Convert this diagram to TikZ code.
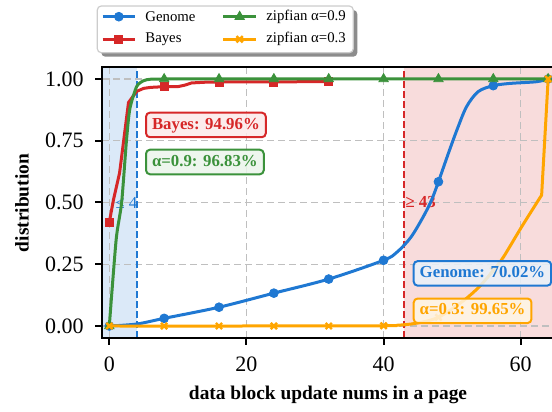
\documentclass[tikz,border=0pt]{standalone}
\usepackage{fontspec}
\setmainfont{Liberation Serif}
\usetikzlibrary{shadows,plotmarks}
\definecolor{cBlue}{HTML}{1F78D2}
\definecolor{cRed}{HTML}{D62728}
\definecolor{cGreen}{HTML}{3B923B}
\definecolor{cOrange}{HTML}{FFA500}
\tikzset{
  dataline/.style={line width=1.5pt, line join=round},
  gridline/.style={black!25, line width=0.7pt, dash pattern=on 3.5pt off 2pt},
  splitline/.style={line width=1pt, dash pattern=on 3.5pt off 1.5pt},
  spine/.style={black, line width=1pt},
  ticklab/.style={inner sep=0pt, font=\fontsize{11}{13}\selectfont},
  axlab/.style={inner sep=0pt, font=\fontsize{9.7}{12}\selectfont\bfseries},
  legtext/.style={inner sep=0pt, anchor=west, font=\fontsize{7.4}{9}\selectfont},
  note/.style={draw=#1, text=#1, fill=#1!10, fill opacity=.85, text opacity=1,
    rounded corners=2pt, line width=1pt, anchor=west, inner xsep=3pt, inner ysep=2.2pt,
    text height=6pt, text depth=1.9pt, font=\fontsize{8.4}{10}\selectfont\bfseries},
  genomemark/.style={only marks, mark=*, mark size=2.2pt},
  bayesmark/.style={only marks, mark=square*, mark size=2pt},
  zipfhmark/.style={only marks, mark=triangle*, mark size=2.7pt},
  zipflmark/.style={only marks, mark=x, mark size=2.2pt, mark options={line width=1.2pt}}
}
\begin{document}
\begin{tikzpicture}[x=0.5pt,y=0.5pt]
    \useasboundingbox (0,0) rectangle (552,412);
    \begin{scope}[shift={(109.3,86)},x=3.4285pt,y=123.5pt]
    %画背景区域
    \fill[cBlue,opacity=0.16] (-1.06,-0.0486) rectangle (4,1.05);
    \fill[cRed,opacity=0.16] (43,-0.0486) rectangle (64.56,1.05);
    \foreach \x in {0,20,40,60}
        \draw[gridline] (\x,-0.0486)--(\x,1.05);
    \foreach \y in {0,0.25,0.5,0.75,1}
        \draw[gridline] (-1.06,\y)--(64.56,\y);
    \draw[splitline,cBlue] (4,-0.0486)--(4,1.05);
    \draw[splitline,cRed] (43,-0.0486)--(43,1.05);
    \node[cBlue,anchor=east,inner sep=0pt,xshift=0.5pt,font=\fontsize{8.4}{10}\selectfont] (le4) at (4,0.5) {≤ 4};
    \node[cRed,anchor=west,inner sep=0pt,xshift=0.5pt,font=\fontsize{8.4}{10}\selectfont\bfseries] (ge43) at (43,0.5) {≥ 43};
    %四条曲线
    \draw[dataline,cBlue] plot[smooth,tension=0.5] coordinates {(0,0) (4,0.008) (8,0.031) (16,0.076)
        (24,0.133) (32,0.19) (40,0.266) (42,0.3) (44,0.36) (45.8,0.443) (47,0.51) (48,0.584)
        (49.45,0.699) (50.7,0.794) (52.1,0.888) (53.8,0.949) (56,0.973) (58.4,0.982) (62.3,0.989) (64,1)};
    \draw[cBlue] plot[genomemark] coordinates {(0,0) (8,0.031) (16,0.076) (24,0.133) (32,0.19) (40,0.266)
        (48,0.584) (56,0.973) (64,1)};
    \draw[dataline,cRed] plot coordinates {(0,0.42) (0.6,0.51) (1.5,0.62) (2.8,0.905) (4,0.95) (5,0.962)
        (6,0.966) (8,0.969) (10,0.969) (11,0.975) (12,0.984) (14,0.987) (16,0.988) (24,0.988) (32,0.99)};
    \draw[cRed] plot[bayesmark] coordinates {(0,0.42) (8,0.969) (16,0.988) (24,0.988) (32,0.99)};
    \draw[dataline,cGreen] plot[smooth,tension=0.4] coordinates {(0,0) (1,0.35) (1.8,0.5) (2.5,0.75) (3,0.88)
        (4,0.97) (5,0.993) (6,0.999) (8,1)} -- (64,1);
    \draw[cGreen] plot[zipfhmark] coordinates {(0,0) (8,1) (16,1) (24,1) (32,1) (40,1) (48,1) (56,1) (64,1)};
    \draw[dataline,cOrange] plot[smooth,tension=0.5] coordinates {(0,0) (20,0) (40,0.001) (42,0.003)
        (44,0.008) (46,0.018) (48,0.035) (50,0.07) (52,0.11) (54,0.16) (56,0.225) (57.5,0.28) (60.1,0.4)
        (63.05,0.53)} -- (64,1);
    \draw[cOrange] plot[zipflmark] coordinates {(0,0) (8,0) (16,0) (24,0) (32,0) (40,0.001) (48,0.035)
        (56,0.225) (64,1)};
    %标注框
    \node[note=cRed] (bayesnote) at (5.21,0.814) {Bayes: 94.96\%};
    \node[note=cGreen] (zipfhnote) at (5.21,0.664) {α=0.9: 96.83\%};
    \node[note=cBlue] (genomenote) at (44.25,0.213) {Genome: 70.02\%};
    \node[note=cOrange] (zipflnote) at (44.25,0.0615) {α=0.3: 99.65\%};
    %坐标轴
    \draw[spine] (64.56,1.05)--(-1.06,1.05)--(-1.06,-0.0486)--(64.56,-0.0486);
    \foreach \x in {0,20,40,60}{
        \draw[spine] (\x,-0.0486)--++(0,-3.5pt);
        \node[ticklab,anchor=north,yshift=-9.3pt] (xt\x) at (\x,-0.0486) {\x};
    }
    \foreach \y/\t [count=\i] in {0/0.00,0.25/0.25,0.5/0.50,0.75/0.75,1/1.00}{
        \draw[spine] (-1.06,\y)--++(-3.5pt,0);
        \node[ticklab,anchor=east,xshift=-9pt] (yt\i) at (-1.06,\y) {\t};
    }
    \node[axlab] (xlabel) at (31.9,-0.2794) {data block update nums in a page};
    \node[axlab,rotate=90] (ylabel) at (-12.73,0.498) {distribution};
    \end{scope}
    %图例
    \node[draw=black!20,fill=white,line width=0.6pt,rounded corners=2pt,minimum width=128pt,
        minimum height=23.35pt,inner sep=0pt,
        drop shadow={shadow xshift=2pt,shadow yshift=-2pt,opacity=0.45,fill=black}] (legend) at (225.3,382.65) {};
    \draw[dataline,cBlue] (102.7,395.3)--(135,395.3);
    \draw[cBlue] plot[genomemark] coordinates {(118.85,395.3)};
    \node[legtext] (lgGenome) at (145,395.3) {Genome};
    \draw[dataline,cRed] (102.7,372.7)--(135,372.7);
    \draw[cRed] plot[bayesmark] coordinates {(118.85,372.7)};
    \node[legtext] (lgBayes) at (145,372.7) {Bayes};
    \draw[dataline,cGreen] (223.3,395.3)--(256,395.3);
    \draw[cGreen] plot[zipfhmark] coordinates {(239.65,395.3)};
    \node[legtext] (lgZipfH) at (266,395.3) {zipfian α=0.9};
    \draw[dataline,cOrange] (223.3,372.7)--(256,372.7);
    \draw[cOrange] plot[zipflmark] coordinates {(239.65,372.7)};
    \node[legtext] (lgZipfL) at (266,372.7) {zipfian α=0.3};
\end{tikzpicture}
\end{document}
